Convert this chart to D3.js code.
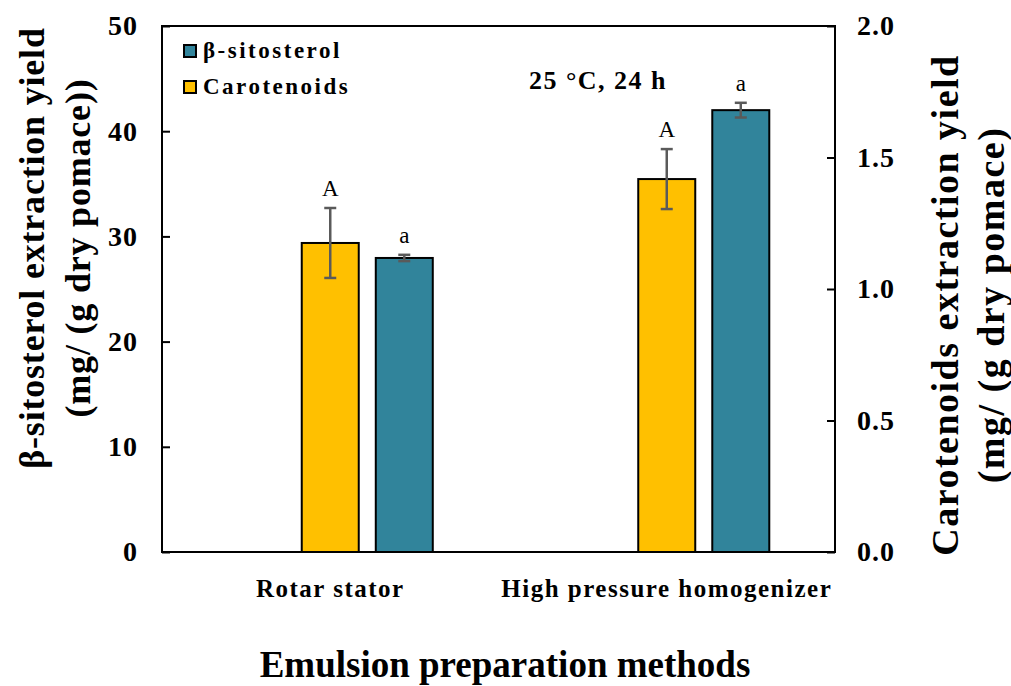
<!DOCTYPE html>
<html>
<head>
<meta charset="utf-8">
<script src="https://cdn.jsdelivr.net/npm/d3@7"></script>
<style>
  body { margin: 0; background: #fff; }
  text { font-family: "Liberation Serif", "Times New Roman", serif; }
</style>
</head>
<body>
<div id="chart"></div>
<script>
// chart data
const categories = ["Rotar stator", "High pressure homogenizer"];
const sitosterol = [27.95, 42.0];
const sitosterolErr = [0.3, 0.7];
const carotenoids = [1.175, 1.418];
const carotenoidsErr = [0.133, 0.114];
const caroLetters = ["A", "A"];
const sitoLetters = ["a", "a"];
const leftTicks = [0, 10, 20, 30, 40, 50];
const rightTicks = [0, 0.5, 1.0, 1.5, 2.0];
const slots = ["blank", "Carotenoids", "β-sitosterol"];

const W = 1011, H = 686;
const margin = { top: 26, right: 176, bottom: 134, left: 162 };
const width = W - margin.left - margin.right;
const height = H - margin.top - margin.bottom;

const svg = d3.select("#chart")
    .append("svg")
    .attr("width", W)
    .attr("height", H);

const g = svg.append("g")
    .attr("transform", `translate(${margin.left},${margin.top})`);

// scales
const x0 = d3.scaleBand().domain(categories).range([0, width]);
const bw = x0.bandwidth();
const x1 = d3.scaleBand().domain(slots)
    .range([bw * 0.17, bw * 0.83])
    .paddingInner(0.23).paddingOuter(0.115);

const yL = d3.scaleLinear().domain([0, 50]).range([height, 0]);
const yR = d3.scaleLinear().domain([0, 2]).range([height, 0]);

const yellow = "#FFC000", teal = "#31849B", errColor = "#5a5a5a";

// frame
g.append("rect")
    .attr("width", width).attr("height", height)
    .attr("fill", "none").attr("stroke", "#000").attr("stroke-width", 2);

// axes
const axL = g.append("g")
    .call(d3.axisLeft(yL).tickValues(leftTicks).tickSize(-8).tickPadding(24).tickFormat(d3.format("d")));
const axR = g.append("g")
    .attr("transform", `translate(${width},0)`)
    .call(d3.axisRight(yR).tickValues(rightTicks).tickSize(-8).tickPadding(22).tickFormat(d3.format(".1f")));
[axL, axR].forEach(ax => {
    ax.select(".domain").remove();
    ax.selectAll("line").attr("stroke", "#000").attr("stroke-width", 2);
    ax.selectAll("text")
        .style("font-family", "'Liberation Serif', serif")
        .style("font-weight", "bold")
        .style("font-size", "28px")
        .style("letter-spacing", "1px")
        .attr("fill", "#000");
});

// bars
const groups = g.selectAll(".grp")
    .data(categories)
    .enter().append("g")
    .attr("transform", d => `translate(${x0(d)},0)`);

groups.append("rect")
    .attr("x", x1("Carotenoids"))
    .attr("y", (d, i) => yR(carotenoids[i]))
    .attr("width", x1.bandwidth())
    .attr("height", (d, i) => height - yR(carotenoids[i]))
    .attr("fill", yellow).attr("stroke", "#000").attr("stroke-width", 2);

groups.append("rect")
    .attr("x", x1("β-sitosterol"))
    .attr("y", (d, i) => yL(sitosterol[i]))
    .attr("width", x1.bandwidth())
    .attr("height", (d, i) => height - yL(sitosterol[i]))
    .attr("fill", teal).attr("stroke", "#000").attr("stroke-width", 2);

// error bars
function errBar(sel, cx, yTop, yBot) {
    sel.append("line").attr("x1", cx).attr("x2", cx).attr("y1", yTop).attr("y2", yBot);
    sel.append("line").attr("x1", cx - 6).attr("x2", cx + 6).attr("y1", yTop).attr("y2", yTop);
    sel.append("line").attr("x1", cx - 6).attr("x2", cx + 6).attr("y1", yBot).attr("y2", yBot);
    sel.selectAll("line").attr("stroke", errColor).attr("stroke-width", 2.5);
}
groups.each(function (d, i) {
    const grp = d3.select(this);
    const cc = x1("Carotenoids") + x1.bandwidth() / 2;
    const cs = x1("β-sitosterol") + x1.bandwidth() / 2;
    errBar(grp.append("g"), cc, yR(carotenoids[i] + carotenoidsErr[i]), yR(carotenoids[i] - carotenoidsErr[i]));
    errBar(grp.append("g"), cs, yL(sitosterol[i] + sitosterolErr[i]), yL(sitosterol[i] - sitosterolErr[i]));
    grp.append("text")
        .attr("x", cc).attr("y", yR(carotenoids[i] + carotenoidsErr[i]) - 12)
        .attr("text-anchor", "middle").style("font-size", "23px")
        .text(caroLetters[i]);
    grp.append("text")
        .attr("x", cs).attr("y", yL(sitosterol[i] + sitosterolErr[i]) - 12)
        .attr("text-anchor", "middle").style("font-size", "23px")
        .text(sitoLetters[i]);
});

// category labels
g.selectAll(".cat")
    .data(categories)
    .enter().append("text")
    .attr("x", d => x0(d) + bw / 2)
    .attr("y", height + 45)
    .attr("text-anchor", "middle")
    .style("font-weight", "bold").style("font-size", "25px")
    .style("letter-spacing", "1.5px")
    .text(d => d);

// x title
svg.append("text")
    .attr("x", 505).attr("y", 677)
    .attr("text-anchor", "middle")
    .style("font-weight", "bold").style("font-size", "37px")
    .text("Emulsion preparation methods");

// left y title
const lt = svg.append("text")
    .attr("transform", "translate(44,248) rotate(-90)")
    .attr("text-anchor", "middle")
    .style("font-weight", "bold").style("font-size", "36px")
    .style("letter-spacing", "0.8px");
lt.append("tspan").attr("x", 0).attr("dy", 0).text("β-sitosterol extraction yield");
lt.append("tspan").attr("x", 0).attr("dy", 46).text("(mg/ (g dry pomace))");

// right y title
const rt = svg.append("text")
    .attr("transform", "translate(958,305) rotate(-90)")
    .attr("text-anchor", "middle")
    .style("font-weight", "bold").style("font-size", "38px")
    .style("letter-spacing", "1.5px");
rt.append("tspan").attr("x", 0).attr("dy", 0).text("Carotenoids extraction yield");
rt.append("tspan").attr("x", 0).attr("dy", 46).text("(mg/ (g dry pomace)");

// annotation
g.append("text")
    .attr("x", 598 - margin.left).attr("y", 89 - margin.top)
    .attr("text-anchor", "middle")
    .style("font-weight", "bold").style("font-size", "26px")
    .style("letter-spacing", "1.5px")
    .text("25 °C, 24 h");

// legend
const legendItems = [{ name: "β-sitosterol", color: teal }, { name: "Carotenoids", color: yellow }];
const lg = g.selectAll(".leg")
    .data(legendItems)
    .enter().append("g")
    .attr("transform", (d, i) => `translate(22,${19 + i * 36})`);
lg.append("rect")
    .attr("width", 12).attr("height", 12)
    .attr("fill", d => d.color).attr("stroke", "#000").attr("stroke-width", 2);
lg.append("text")
    .attr("x", 19).attr("y", 13)
    .style("font-weight", "bold").style("font-size", "23px")
    .style("letter-spacing", "2.5px")
    .text(d => d.name);
</script>
</body>
</html>
